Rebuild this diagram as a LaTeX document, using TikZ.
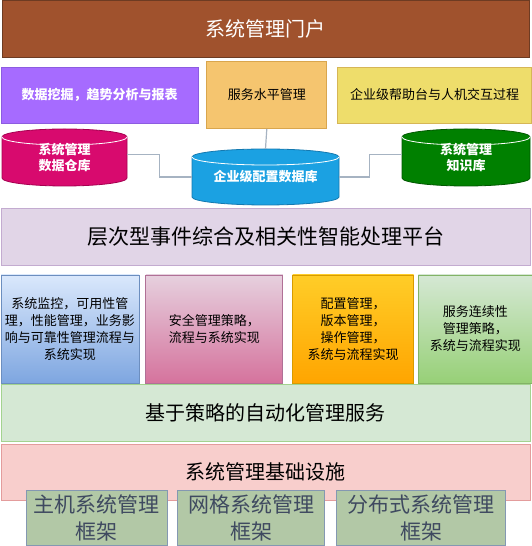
\documentclass[tikz,border=0pt]{standalone}
\usepackage{fontspec}
\setmainfont{Noto Sans CJK SC}
\usepackage{tikz}
\usetikzlibrary{positioning}

\definecolor{portalfill}{HTML}{A0522D}
\definecolor{portalline}{HTML}{6D3B22}
\definecolor{miningfill}{HTML}{A66BFF}
\definecolor{miningline}{HTML}{8C5CE0}
\definecolor{slmfill}{HTML}{F5C56F}
\definecolor{slmline}{HTML}{D9A64D}
\definecolor{helpfill}{HTML}{EEDD6B}
\definecolor{helpline}{HTML}{D6B656}
\definecolor{dwfill}{HTML}{D80A6E}
\definecolor{dwline}{HTML}{A50050}
\definecolor{cmdbfill}{HTML}{1BA1E2}
\definecolor{cmdbline}{HTML}{1479B0}
\definecolor{kbfill}{HTML}{008000}
\definecolor{kbline}{HTML}{005700}
\definecolor{linkgray}{HTML}{A6B3C2}
\definecolor{platfill}{HTML}{E1D5E7}
\definecolor{platline}{HTML}{C3ABD0}
\definecolor{montop}{HTML}{DAE8FC}
\definecolor{monbot}{HTML}{7EA6E0}
\definecolor{monline}{HTML}{6C8EBF}
\definecolor{sectop}{HTML}{E6D0DE}
\definecolor{secbot}{HTML}{D5739D}
\definecolor{secline}{HTML}{B07096}
\definecolor{conftop}{HTML}{FFCD28}
\definecolor{confbot}{HTML}{FFA500}
\definecolor{confline}{HTML}{D79B00}
\definecolor{conttop}{HTML}{D5E8D4}
\definecolor{contbot}{HTML}{97D077}
\definecolor{contline}{HTML}{82B366}
\definecolor{autofill}{HTML}{D5E8D4}
\definecolor{autoline}{HTML}{A3D38F}
\definecolor{infrafill}{HTML}{F8CECC}
\definecolor{infraline}{HTML}{E39C9C}
\definecolor{framefill}{HTML}{B2C8A6}
\definecolor{frameline}{HTML}{8498B2}
\definecolor{frametext}{HTML}{3F4A60}

% cylinder: x, y, width, height, fill, line
\newcommand{\dbcyl}[6]{%
  \filldraw[fill=#5, draw=#6, line width=0.8pt]
    (#1-#3/2, #2+#4/2-8) -- (#1-#3/2, #2-#4/2+8)
    arc[start angle=180, end angle=360, x radius=#3/2, y radius=8]
    -- (#1+#3/2, #2+#4/2-8)
    arc[start angle=0, end angle=180, x radius=#3/2, y radius=8] -- cycle;
  \draw[white, line width=0.8pt] (#1-#3/2, #2+#4/2-8)
    arc[start angle=180, end angle=360, x radius=#3/2, y radius=8];
}

\tikzset{
  bar/.style={draw, line width=0.8pt, minimum width=529, minimum height=57, inner sep=0pt,
    font=\fontsize{20}{24}\selectfont},
  block/.style={draw, line width=0.8pt, inner sep=2pt, align=center,
    font=\fontsize{13}{17}\selectfont},
  dbtext/.style={inner sep=0pt, align=center, text=white,
    font=\fontsize{13}{16}\selectfont\bfseries},
  frame/.style={draw=frameline, fill=framefill, text=frametext, line width=0.8pt,
    align=center, minimum height=55, inner sep=0pt, font=\fontsize{21}{27}\selectfont},
  link/.style={draw=linkgray, line width=1.2pt},
}

\begin{document}
\begin{tikzpicture}[x=1pt, y=1pt]
    \useasboundingbox (0,0) rectangle (531,546);

    \node(portal) [bar, fill=portalfill, draw=portalline, text=white, minimum width=527] at (265.5,517) {系统管理门户};

    \node(mining) [block, fill=miningfill, draw=miningline, text=white, minimum width=197, minimum height=56,
      font=\fontsize{13}{17}\selectfont\bfseries] at (99.5,451) {数据挖掘，趋势分析与报表};
    \node(slm) [block, fill=slmfill, draw=slmline, minimum width=120, minimum height=67, right=8 of mining] {服务水平管理};
    \node(help) [block, fill=helpfill, draw=helpline, minimum width=194, minimum height=56, right=10 of slm] {企业级帮助台与人机交互过程};

    \dbcyl{64.5}{388.5}{125}{57}{dwfill}{dwline}
    \dbcyl{265.5}{369}{147}{56}{cmdbfill}{cmdbline}
    \dbcyl{466}{388.5}{128}{57}{kbfill}{kbline}
    \node(dw) [dbtext, minimum width=125, minimum height=57] at (64.5,388.5) {系统管理\\数据仓库};
    \node(cmdb) [dbtext, minimum width=147, minimum height=56] at (265.5,369) {企业级配置数据库};
    \node(kb) [dbtext, minimum width=128, minimum height=57] at (466,388.5) {系统管理\\知识库};

    \draw[link] (slm.south) -- (cmdb.north);
    \draw[link] ([yshift=3]dw.east) -- ++(32,0) |- (cmdb.west);
    \draw[link] (cmdb.east) -- ++(30,0) |- ([yshift=3]kb.west);

    \node(platform) [bar, fill=platfill, draw=platline, font=\fontsize{21}{25}\selectfont] at (265.5,309.5) {层次型事件综合及相关性智能处理平台};

    \node(monitor) [block, top color=montop, bottom color=monbot, draw=monline,
      minimum width=138, minimum height=108] at (70,217)
      {系统监控，可用性管\\理，性能管理，业务影\\响与可靠性管理流程与\\系统实现};
    \node(secure) [block, top color=sectop, bottom color=secbot, draw=secline,
      minimum width=137, minimum height=108, right=6 of monitor]
      {安全管理策略，\\流程与系统实现};
    \node(config) [block, top color=conftop, bottom color=confbot, draw=confline,
      minimum width=121, minimum height=108, right=9 of secure]
      {配置管理，\\版本管理，\\操作管理，\\系统与流程实现};
    \node(contin) [block, top color=conttop, bottom color=contbot, draw=contline,
      minimum width=114, minimum height=108, right=4 of config]
      {服务连续性\\管理策略，\\系统与流程实现};

    \node(auto) [bar, fill=autofill, draw=autoline] at (265.5,133.5) {基于策略的自动化管理服务};
    \node(infra) [bar, fill=infrafill, draw=infraline, minimum height=56] at (265.5,74) {系统管理基础设施};

    \node(host) [frame, minimum width=141] at (96.5,28.5) {主机系统管理\\框架};
    \node(net) [frame, minimum width=147, right=10 of host] {网格系统管理\\框架};
    \node(dist) [frame, minimum width=169, right=11 of net] {分布式系统管理\\框架};
\end{tikzpicture}
\end{document}
